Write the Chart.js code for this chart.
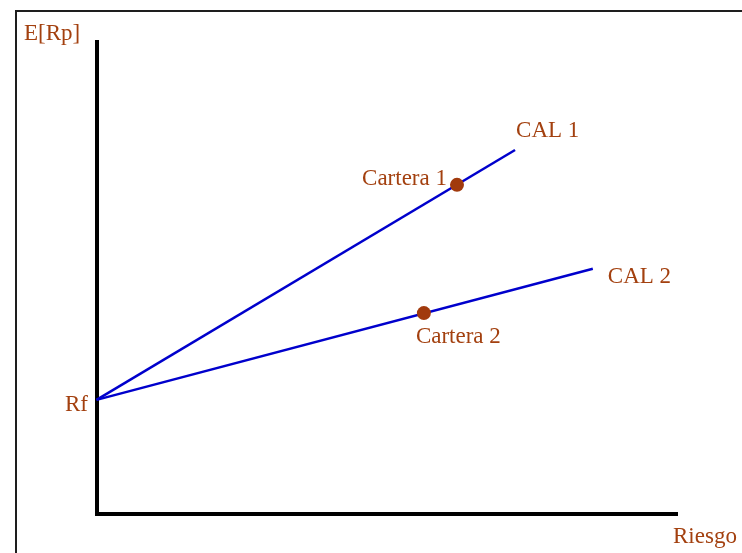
<!DOCTYPE html>
<html>
<head>
<meta charset="utf-8">
<script src="https://cdn.jsdelivr.net/npm/chart.js@4/dist/chart.umd.min.js"></script>
<style>
    html, body { margin: 0; padding: 0; background: #fff; }
    #wrap { position: relative; width: 742px; height: 553px; overflow: hidden; }
    #frame {
        position: absolute; left: 15px; top: 10px; width: 800px; height: 600px;
        border-top: 2px solid #1e1e1e; border-left: 2px solid #1e1e1e;
    }
    canvas { position: absolute; left: 0; top: 0; }
</style>
</head>
<body>
<div id="wrap">
    <div id="frame"></div>
    <canvas id="chart" width="742" height="553"></canvas>
</div>
<script>
/* CAL diagram — two capital allocation lines from Rf */

const rf = 24.1;

// line end points (riesgo, E[Rp])
const cal1Risk = [0, 72.1];
const cal1Return = [rf, 77.1];
const cal2Risk = [0, 85.5];
const cal2Return = [rf, 51.9];

// portfolios on each line
const portfolioNames = ['Cartera 1', 'Cartera 2'];
const portfolioRisk = [62.1, 56.4];
const portfolioReturn = [69.7, 42.5];

const TEXT = '#a3400f';
const BLUE = '#0000cc';
const FONT = '23px "Liberation Serif", "Times New Roman", serif';

function toPoints(xs, ys) {
    return xs.map(function (x, i) { return { x: x, y: ys[i] }; });
}

const labelPlugin = {
    id: 'diagramLabels',
    afterDraw: function (chart) {
        const ctx = chart.ctx;
        const sx = chart.scales.x;
        const sy = chart.scales.y;
        const area = chart.chartArea;

        function put(text, px, py, align) {
            ctx.textAlign = align || 'left';
            ctx.fillText(text, px, py);
        }

        ctx.save();
        ctx.font = FONT;
        ctx.fillStyle = TEXT;
        ctx.textBaseline = 'alphabetic';

        put('E[Rp]', area.left - 72.5, area.top - 2);
        put('Riesgo', area.right - 4, area.bottom + 29.5);
        put('Rf', sx.getPixelForValue(0) - 8.5, sy.getPixelForValue(rf) + 11, 'right');
        put('CAL 1', sx.getPixelForValue(cal1Risk[1]) + 1, sy.getPixelForValue(cal1Return[1]) - 13);
        put('CAL 2', sx.getPixelForValue(cal2Risk[1]) + 15, sy.getPixelForValue(cal2Return[1]) + 14);
        put(portfolioNames[0], sx.getPixelForValue(portfolioRisk[0]) - 10, sy.getPixelForValue(portfolioReturn[0]), 'right');
        put(portfolioNames[1], sx.getPixelForValue(portfolioRisk[1]) - 8, sy.getPixelForValue(portfolioReturn[1]) + 30);
        ctx.restore();
    }
};

const axisOpts = {
    type: 'linear',
    min: 0,
    max: 100,
    grid: { display: false, drawTicks: false },
    ticks: { display: false },
    border: { display: true, color: '#000', width: 4 }
};

new Chart(document.getElementById('chart'), {
    type: 'scatter',
    data: {
        datasets: [
            {
                data: toPoints(cal1Risk, cal1Return),
                showLine: true,
                borderColor: BLUE,
                borderWidth: 2.5,
                pointRadius: 0,
                clip: false,
                order: 2
            },
            {
                data: toPoints(cal2Risk, cal2Return),
                showLine: true,
                borderColor: BLUE,
                borderWidth: 2.5,
                pointRadius: 0,
                clip: false,
                order: 2
            },
            {
                data: toPoints(portfolioRisk, portfolioReturn),
                showLine: false,
                pointRadius: 7,
                pointBackgroundColor: '#a13a0d',
                pointBorderColor: '#a13a0d',
                pointBorderWidth: 0,
                clip: false,
                order: 1
            }
        ]
    },
    options: {
        responsive: false,
        animation: false,
        events: [],
        layout: { padding: { left: 96.5, top: 42, right: 65, bottom: 39.5 } },
        plugins: {
            legend: { display: false },
            tooltip: { enabled: false }
        },
        scales: {
            x: Object.assign({ position: 'bottom' }, axisOpts),
            y: Object.assign({ position: 'left' }, axisOpts)
        }
    },
    plugins: [labelPlugin]
});
</script>
</body>
</html>
